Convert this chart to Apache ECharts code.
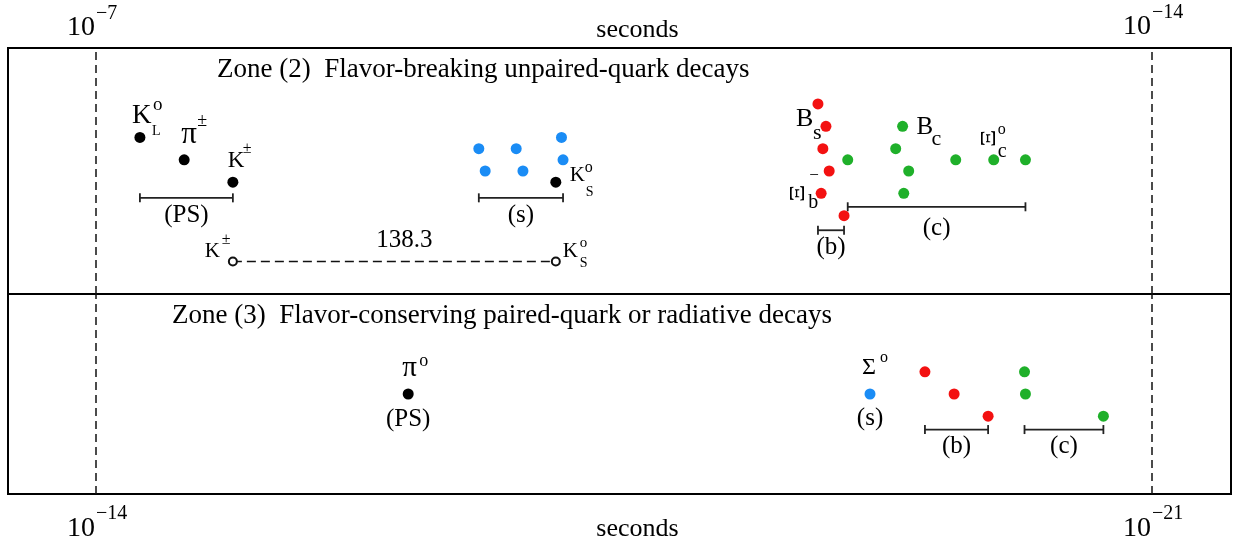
<!DOCTYPE html>
<html>
<head>
<meta charset="utf-8">
<script src="https://cdn.jsdelivr.net/npm/echarts@6/dist/echarts.min.js"></script>
<style>
  html, body { margin: 0; padding: 0; background: #fff; }
  #chart { width: 1238px; height: 548px; }
</style>
</head>
<body>
<div id="chart"></div>
<script>
// ---- data: mean lifetimes in seconds, plotted at -log10(lifetime) ----
// rows are the stacking levels used to keep neighbouring dots apart

// Zone (2): 10^-7 .. 10^-14 s
const zone2Decades = [7, 14];
const psLifetimes = [5.116e-8, 2.603e-8, 1.238e-8];          // K_L, pi+-, K+-
const psRows = [14, 12, 10];
const ksLifetime = 8.954e-11;                                // K_S
const ksRow = 10;
const sLifetimes = [2.90e-10, 1.639e-10, 0.821e-10, 2.632e-10, 1.479e-10, 0.8018e-10];
const sRows = [13, 13, 14, 11, 11, 12];
const bLifetimes = [1.638e-12, 1.45e-12, 1.52e-12, 1.38e-12, 1.56e-12, 1.10e-12];
const bRows = [17, 15, 13, 11, 9, 7];
const cLifetimes = [1.040e-12, 4.5e-13, 5.0e-13, 4.1e-13, 4.42e-13, 2.0e-13, 1.12e-13, 6.9e-14];
const cRows = [12, 15, 13, 11, 9, 12, 12, 12];
const ratioRow = 2.9;                                        // K+- / K_S comparison

// Zone (3): 10^-14 .. 10^-21 s
const zone3Decades = [14, 21];
const pi0Lifetime = 8.52e-17;
const pi0Row = 9;
const sigma0Lifetime = 7.4e-20;
const sigma0Row = 9;
const b3Lifetimes = [3.2e-20, 2.05e-20, 1.22e-20];
const b3Rows = [11, 9, 7];
const c3Lifetimes = [7.0e-21, 6.9e-21, 2.1e-21];
const c3Rows = [11, 9, 7];

// group labels and bracket rows
const groupTop = [
  { text: '(PS)', bar: 8.6, label: 7.05 },
  { text: '(s)',  bar: 8.6, label: 7.05 },
  { text: '(b)',  bar: 5.7, label: 4.2 },
  { text: '(c)',  bar: 7.8, label: 5.9 }
];
const groupBottom = [
  { text: '(PS)', label: 6.7 },
  { text: '(s)',  label: 6.8 },
  { text: '(b)',  bar: 5.8, label: 4.3 },
  { text: '(c)',  bar: 5.8, label: 4.3 }
];

const zone2Title = 'Zone (2)  Flavor-breaking unpaired-quark decays';
const zone3Title = 'Zone (3)  Flavor-conserving paired-quark or radiative decays';
const axisName = 'seconds';

// ---- layout ----
const FONT = '"Liberation Serif", "Times New Roman", serif';
const INK = '#000';
const BLUE = '#1a8cf5', RED = '#f31111', GREEN = '#1fb02a';
const boxLeft = 8, boxRight = 1231, boxTop = 48, boxMid = 294, boxBottom = 494;
const decadeLeftPx = 96, decadeRightPx = 1152;
const pxPerDecade = (decadeRightPx - decadeLeftPx) / 7;

const ex = t => -Math.log10(t);
const pts = (ts, rows) => ts.map((t, i) => [ex(t), rows[i]]);
const span = ts => { const e = ts.map(ex); return [Math.min(...e), Math.max(...e)]; };

function xRange(d0) {
  return {
    min: d0 - (decadeLeftPx - boxLeft) / pxPerDecade,
    max: d0 + 7 + (boxRight - decadeRightPx) / pxPerDecade
  };
}

function dots(name, data, color, grid, size) {
  return {
    type: 'scatter', name, xAxisIndex: grid, yAxisIndex: grid, data,
    symbol: 'circle', symbolSize: size || 11,
    itemStyle: { color, opacity: 1 }, silent: true, z: 5
  };
}

function bracket(range, row, grid) {
  return {
    type: 'line', xAxisIndex: grid, yAxisIndex: grid,
    data: [[range[0], row], [range[1], row]],
    symbol: 'rect', symbolSize: [1.8, 9],
    itemStyle: { color: '#222', opacity: 1 },
    lineStyle: { color: '#222', width: 1.8 },
    silent: true, z: 3
  };
}

function groupLabels(items, grid) {
  return {
    type: 'scatter', xAxisIndex: grid, yAxisIndex: grid,
    symbolSize: 0, silent: true, z: 6,
    itemStyle: { opacity: 1 },
    data: items.map(it => ({ value: [it.x, it.row], label: { formatter: it.text } })),
    label: {
      show: true, position: 'inside', color: INK,
      fontFamily: FONT, fontSize: 25
    }
  };
}

function dividers(decades, grid) {
  return {
    type: 'scatter', xAxisIndex: grid, yAxisIndex: grid, data: [], silent: true,
    markLine: {
      silent: true, symbol: ['none', 'none'], animation: false,
      label: { show: false },
      lineStyle: { color: '#111', width: 1.5, type: [8, 5] },
      data: decades.map(d => ({ xAxis: d }))
    }
  };
}

const psSpan = span(psLifetimes), sSpan = span(sLifetimes);
const bSpan = span(bLifetimes), cSpan = span(cLifetimes);
const b3Span = span(b3Lifetimes), c3Span = span(c3Lifetimes);
const mid = r => (r[0] + r[1]) / 2;
const ratio = (psLifetimes[2] / ksLifetime).toFixed(1);

const chart = echarts.init(document.getElementById('chart'), null, { renderer: 'canvas' });

const axisNameStyle = { fontFamily: FONT, fontSize: 26, color: INK, padding: [0, 0, 0, 36] };

const option = {
  animation: false,
  backgroundColor: '#fff',
  title: [
    { text: zone2Title, left: 217, top: 56, padding: 0,
      textStyle: { fontFamily: FONT, fontSize: 27, fontWeight: 'normal', color: INK } },
    { text: zone3Title, left: 172, top: 302, padding: 0,
      textStyle: { fontFamily: FONT, fontSize: 27, fontWeight: 'normal', color: INK } }
  ],
  grid: [
    { left: boxLeft, width: boxRight - boxLeft, top: boxTop, height: boxMid - boxTop,
      show: true, borderColor: '#000', borderWidth: 2, backgroundColor: 'transparent' },
    { left: boxLeft, width: boxRight - boxLeft, top: boxMid, height: boxBottom - boxMid,
      show: true, borderColor: '#000', borderWidth: 2, backgroundColor: 'transparent' }
  ],
  xAxis: [
    Object.assign({ type: 'value', gridIndex: 0, position: 'top',
      name: axisName, nameLocation: 'middle', nameGap: 5, nameTextStyle: axisNameStyle,
      axisLine: { show: false }, axisTick: { show: false },
      axisLabel: { show: false }, splitLine: { show: false } }, xRange(zone2Decades[0])),
    Object.assign({ type: 'value', gridIndex: 1, position: 'bottom',
      name: axisName, nameLocation: 'middle', nameGap: 22, nameTextStyle: axisNameStyle,
      axisLine: { show: false }, axisTick: { show: false },
      axisLabel: { show: false }, splitLine: { show: false } }, xRange(zone3Decades[0]))
  ],
  yAxis: [
    { type: 'value', gridIndex: 0, min: 0, max: 22, show: false },
    { type: 'value', gridIndex: 1, min: 0, max: 18, show: false }
  ],
  series: [
    dividers(zone2Decades, 0),
    dividers(zone3Decades, 1),

    // zone (2)
    dots('PS', pts(psLifetimes, psRows).concat([[ex(ksLifetime), ksRow]]), '#000', 0),
    dots('s', pts(sLifetimes, sRows), BLUE, 0),
    dots('b', pts(bLifetimes, bRows), RED, 0),
    dots('c', pts(cLifetimes, cRows), GREEN, 0),
    bracket(psSpan, groupTop[0].bar, 0),
    bracket(sSpan, groupTop[1].bar, 0),
    bracket(bSpan, groupTop[2].bar, 0),
    bracket(cSpan, groupTop[3].bar, 0),
    groupLabels([
      { text: groupTop[0].text, x: mid(psSpan), row: groupTop[0].label },
      { text: groupTop[1].text, x: mid(sSpan), row: groupTop[1].label },
      { text: groupTop[2].text, x: mid(bSpan), row: groupTop[2].label },
      { text: groupTop[3].text, x: mid(cSpan), row: groupTop[3].label }
    ], 0),
    {
      type: 'line', xAxisIndex: 0, yAxisIndex: 0, silent: true, z: 4,
      data: [[ex(psLifetimes[2]), ratioRow], [ex(ksLifetime), ratioRow]],
      symbol: 'emptyCircle', symbolSize: 8,
      itemStyle: { color: '#111', borderWidth: 1.4, opacity: 1 },
      lineStyle: { color: '#111', width: 1.5, type: [9, 5] }
    },
    {
      type: 'scatter', xAxisIndex: 0, yAxisIndex: 0, symbolSize: 0, silent: true,
      itemStyle: { opacity: 1 },
      data: [[(ex(psLifetimes[2]) + ex(ksLifetime)) / 2, ratioRow]],
      label: { show: true, position: 'top', distance: 9, offset: [10, 0],
        formatter: ratio, fontFamily: FONT, fontSize: 25, color: INK }
    },

    // zone (3)
    dots('PS3', [[ex(pi0Lifetime), pi0Row]], '#000', 1),
    dots('s3', [[ex(sigma0Lifetime), sigma0Row]], BLUE, 1),
    dots('b3', pts(b3Lifetimes, b3Rows), RED, 1),
    dots('c3', pts(c3Lifetimes, c3Rows), GREEN, 1),
    bracket(b3Span, groupBottom[2].bar, 1),
    bracket(c3Span, groupBottom[3].bar, 1),
    groupLabels([
      { text: groupBottom[0].text, x: ex(pi0Lifetime), row: groupBottom[0].label },
      { text: groupBottom[1].text, x: ex(sigma0Lifetime), row: groupBottom[1].label },
      { text: groupBottom[2].text, x: mid(b3Span), row: groupBottom[2].label },
      { text: groupBottom[3].text, x: mid(c3Span), row: groupBottom[3].label }
    ], 1)
  ]
};

chart.setOption(option);

// ---- particle names with sub/superscripts, placed next to their dots ----
// each part: [text, dx (left edge), dy (baseline), fontSize, rotated]
const particleLabels = [
  { grid: 0, at: [ex(psLifetimes[0]), psRows[0]], parts: [['K', -8, -12.5, 27], ['L', 12, -2, 14], ['o', 13, -26.5, 19]] },
  { grid: 0, at: [ex(psLifetimes[1]), psRows[1]], parts: [['\u03C0', -3, -15, 31], ['\u00B1', 13, -33, 18]] },
  { grid: 0, at: [ex(psLifetimes[2]), psRows[2]], parts: [['K', -5, -14, 23], ['\u00B1', 10, -28, 16]] },
  { grid: 0, at: [ex(ksLifetime), ksRow], parts: [['K', 14, 0.5, 21], ['o', 29, -9, 16], ['S', 30, 14.5, 14]] },
  { grid: 0, at: [ex(bLifetimes[1]), bRows[1]], parts: [['B', -30, 1, 26], ['s', -13, 14, 22]] },
  { grid: 0, at: [ex(cLifetimes[1]), cRows[1]], parts: [['B', 14, 9, 25], ['c', 29, 19.5, 22]] },
  { grid: 0, at: [ex(cLifetimes[6]), cRows[6]], parts: [['\u039E', -4, -21.5, 27, true], ['o', 4, -24.8, 16], ['c', 4, -1.8, 20]] },
  { grid: 0, at: [ex(bLifetimes[4]), bRows[4]], parts: [['\u039E', -23, 0, 27, true], ['\u2212', -12, -12, 17], ['b', -13, 15.6, 20]] },
  { grid: 0, at: [ex(psLifetimes[2]), ratioRow], parts: [['K', -28, -3.6, 21], ['\u00B1', -11, -16.6, 16]] },
  { grid: 0, at: [ex(ksLifetime), ratioRow], parts: [['K', 7, -3.6, 21], ['o', 24, -13.6, 15], ['S', 24, 6.4, 14]] },
  { grid: 1, at: [ex(pi0Lifetime), pi0Row], parts: [['\u03C0', -6, -16, 29], ['o', 11, -27, 18]] },
  { grid: 1, at: [ex(sigma0Lifetime), sigma0Row], parts: [['\u03A3', -8, -19, 24], ['o', 10, -31, 16]] }
];

// decade marks: "10" ends at the dashed line, exponent starts there
const decadeLabels = [
  { grid: 0, at: [zone2Decades[0], 22], exp: '\u22127', base: -11, sup: -28 },
  { grid: 0, at: [zone2Decades[1], 22], exp: '\u221214', base: -12, sup: -29 },
  { grid: 1, at: [zone3Decades[0], 0], exp: '\u221214', base: 44, sup: 26 },
  { grid: 1, at: [zone3Decades[1], 0], exp: '\u221221', base: 44, sup: 26 }
];

function textEl(text, x, baseline, size, align, rotated) {
  const el = {
    type: 'text', silent: true, z: 20,
    style: { text, fontFamily: FONT, fontSize: size, fill: INK,
      align: rotated ? 'center' : align, verticalAlign: 'middle' }
  };
  if (rotated) {
    // the Xi is set on its side, slightly narrowed across its bars
    el.x = x; el.y = baseline; el.rotation = Math.PI / 2; el.scaleY = 0.8;
  } else {
    el.x = x; el.y = baseline - 0.32 * size;
  }
  return el;
}

const graphics = [];
particleLabels.forEach(lb => {
  const p = chart.convertToPixel({ gridIndex: lb.grid }, lb.at);
  lb.parts.forEach(([t, dx, dy, size, rot]) => {
    graphics.push(textEl(t, p[0] + dx, p[1] + dy, size, 'left', rot));
  });
});
decadeLabels.forEach(lb => {
  const p = chart.convertToPixel({ gridIndex: lb.grid }, lb.at);
  graphics.push(textEl('10', p[0] - 1, p[1] + lb.base, 28, 'right'));
  graphics.push(textEl(lb.exp, p[0], p[1] + lb.sup, 20, 'left'));
});

chart.setOption({ graphic: graphics });
</script>
</body>
</html>
